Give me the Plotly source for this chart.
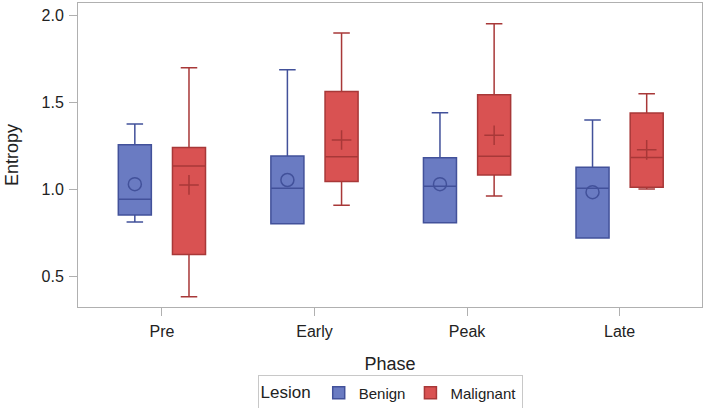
import plotly.graph_objects as go

phases = ["Pre", "Early", "Peak", "Late"]

benign_low = [0.812, 0.802, 0.808, 0.720]
benign_q1 = [0.852, 0.802, 0.808, 0.720]
benign_med = [0.943, 1.006, 1.017, 1.006]
benign_q3 = [1.255, 1.191, 1.180, 1.126]
benign_high = [1.374, 1.686, 1.439, 1.398]
benign_mean = [1.029, 1.053, 1.029, 0.983]

malig_low = [0.383, 0.908, 0.961, 1.002]
malig_q1 = [0.626, 1.044, 1.082, 1.011]
malig_med = [1.134, 1.187, 1.190, 1.182]
malig_q3 = [1.239, 1.561, 1.542, 1.437]
malig_high = [1.697, 1.897, 1.950, 1.548]
malig_mean = [1.025, 1.283, 1.310, 1.226]

B_FILL = "#6a7bc2"
B_LINE = "#42519a"
M_FILL = "#d95252"
M_LINE = "#a83838"

fig = go.Figure()
fig.add_trace(go.Box(
    name="Benign", x=phases, q1=benign_q1, median=benign_med, q3=benign_q3,
    lowerfence=benign_low, upperfence=benign_high,
    fillcolor=B_FILL, line=dict(color=B_LINE, width=1.5), whiskerwidth=0.5,
    boxpoints=False, offsetgroup="B", hoverinfo="skip"))
fig.add_trace(go.Box(
    name="Malignant", x=phases, q1=malig_q1, median=malig_med, q3=malig_q3,
    lowerfence=malig_low, upperfence=malig_high,
    fillcolor=M_FILL, line=dict(color=M_LINE, width=1.5), whiskerwidth=0.5,
    boxpoints=False, offsetgroup="M", hoverinfo="skip"))
fig.add_trace(go.Scatter(
    x=phases, y=benign_mean, mode="markers", offsetgroup="B", showlegend=False,
    marker=dict(symbol="circle-open", size=13, color=B_LINE, line=dict(width=1.5))))
fig.add_trace(go.Scatter(
    x=phases, y=malig_mean, mode="markers", offsetgroup="M", showlegend=False,
    marker=dict(symbol="cross-thin-open", size=14, color=M_LINE, line=dict(width=1.5, color=M_LINE))))

axis_common = dict(showline=True, mirror=True, linecolor="#b0b0b0", linewidth=1,
                   ticks="outside", ticklen=8, tickcolor="#b0b0b0", showgrid=False,
                   zeroline=False, ticklabelstandoff=2,
                   tickfont=dict(size=16, color="#222"))
fig.update_layout(
    width=708, height=408,
    margin=dict(l=78, r=6, t=3, b=101),
    paper_bgcolor="white", plot_bgcolor="white",
    font=dict(family="Liberation Sans, Arial, sans-serif", color="#222"),
    boxmode="group", boxgap=0.29, boxgroupgap=0.39,
    scattermode="group", scattergap=0.29,
    showlegend=True,
    legend=dict(orientation="h", xref="container", yref="container",
                x=0.551, xanchor="center", y=0.037, yanchor="middle",
                itemwidth=30, bordercolor="#c8c8c8", borderwidth=1, font=dict(size=15),
                title=dict(text="Lesion", font=dict(size=17))),
    xaxis=dict(axis_common, automargin=True,
               title=dict(text="Phase", font=dict(size=18), standoff=18),
               range=[-0.55, 3.54]),
    yaxis=dict(axis_common, automargin=False,
               title=dict(text="Entropy", font=dict(size=18), standoff=18),
               range=[0.324, 2.069], tickvals=[0.5, 1.0, 1.5, 2.0], ticktext=["0.5", "1.0", "1.5", "2.0"]),
)
fig.write_html("out.html", config={"displayModeBar": False},
               post_script="document.body.style.margin='0';")
